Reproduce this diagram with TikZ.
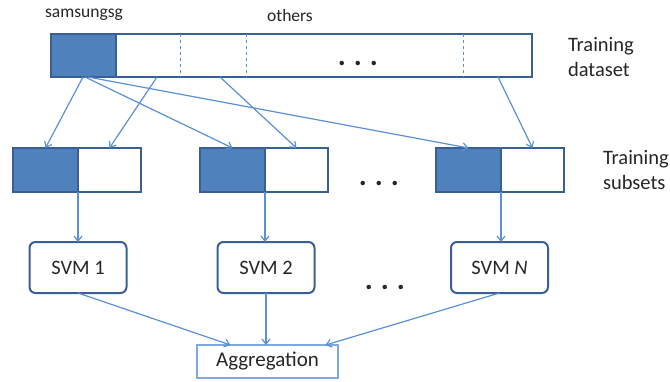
\documentclass[tikz,border=0pt]{standalone}
\usepackage{fontspec}
\setmainfont{Carlito}
\usetikzlibrary{positioning,arrows.meta}
\definecolor{boxblue}{HTML}{4F81BD}
\definecolor{edgeblue}{HTML}{3A5F94}
\definecolor{lineblue}{HTML}{5B8FD6}
\definecolor{aggblue}{HTML}{7FA8DE}
\definecolor{txt}{HTML}{262626}

\begin{document}
\begin{tikzpicture}[x=1pt, y=-1pt, inner sep=0pt, outer sep=0pt, text=txt,
    cell/.style={draw=edgeblue, line width=2pt, minimum height=44pt},
    full/.style={cell, fill=boxblue},
    svm/.style={draw=edgeblue, line width=2pt, rounded corners=6pt,
        minimum width=97pt, minimum height=51pt, font=\fontsize{20.5}{25}\selectfont},
    lbl/.style={font=\fontsize{20.5}{25}\selectfont, align=left, anchor=west},
    top/.style={font=\fontsize{17.5}{20}\selectfont},
    dots/.style={font=\fontsize{30}{34}\selectfont\bfseries},
    flow/.style={draw=lineblue, line width=1.2pt, -{Straight Barb[length=5pt,width=8pt]}}]

    \useasboundingbox (0,0) rectangle (670,381);

    % training dataset
    \node[full, minimum width=65pt, minimum height=43pt, anchor=north west] (d0) at (51,34) {};
    \node[cell, minimum width=416pt, minimum height=43pt, anchor=west] (w0) at (d0.east) {};
    \foreach \dx in {64,130,347}
        \draw[lineblue, dashed, line width=1pt] ([xshift=\dx pt]w0.north west) -- ([xshift=\dx pt]w0.south west);
    \node[dots] (dt0) at (358,63) {.\hspace{8pt}.\hspace{8pt}.};

    \node[top] (samsung) at (84,15) {samsungsg};
    \node[top] (others) at (290,15) {others};
    \node[lbl] (tdata) at (568,57) {Training\\dataset};

    % training subsets
    \foreach \n/\x in {1/13, 2/200, 3/436} {
        \node[full, minimum width=65pt, anchor=north west] (s\n d) at (\x,148) {};
        \node[cell, minimum width=63pt, anchor=west] (s\n w) at (s\n d.east) {};
    }
    \node[dots] (dt1) at (379,183) {.\hspace{8pt}.\hspace{8pt}.};
    \node[lbl] (tsub) at (603,170) {Training\\subsets};

    % classifiers
    \node[svm] (svm1) at (78,267.5) {SVM 1};
    \node[svm] (svm2) at (266,267.5) {SVM 2};
    \node[svm] (svm3) at (499.5,267.5) {SVM \textit{N}};
    \node[dots] (dt2) at (385,287) {.\hspace{8pt}.\hspace{8pt}.};

    \node[draw=aggblue, line width=1.4pt, minimum width=141pt, minimum height=33pt,
        font=\fontsize{21}{25}\selectfont] (agg) at (267.5,361.5) {Aggregation};

    % sampling
    \draw[flow] ([xshift=32pt]d0.south west) -- (s1d.north);
    \draw[flow] ([xshift=34pt]d0.south west) -- (s2d.north);
    \draw[flow] ([xshift=37pt]d0.south west) -- (s3d.north);
    \draw[flow] ([xshift=41pt]w0.south west) -- (s1w.north);
    \draw[flow] ([xshift=104pt]w0.south west) -- (s2w.north);
    \draw[flow] ([xshift=382pt]w0.south west) -- (s3w.north);

    % training
    \foreach \n in {1,2,3}
        \draw[flow] (s\n d.south east) -- (s\n d.south east |- svm\n.north);

    % aggregation
    \draw[flow] (svm1.south) -- ([xshift=-37pt]agg.north);
    \draw[flow] (svm2.south) -- (svm2.south |- agg.north);
    \draw[flow] (svm3.south) -- ([xshift=58pt]agg.north);

\end{tikzpicture}
\end{document}
